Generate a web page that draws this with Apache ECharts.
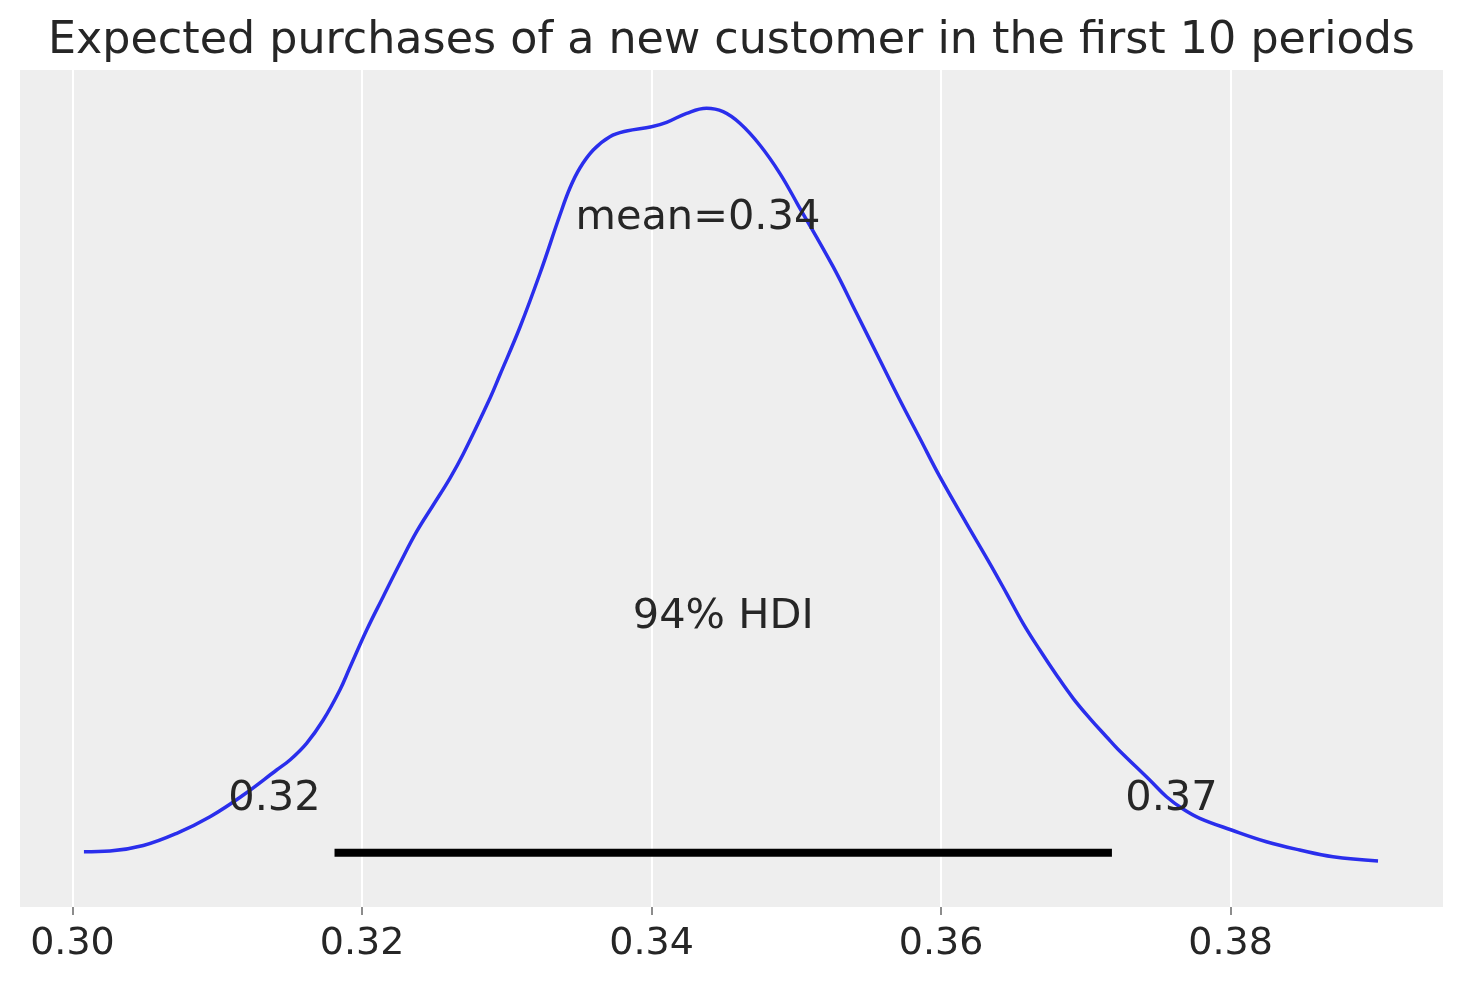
<!DOCTYPE html>
<html>
<head>
<meta charset="utf-8">
<script src="https://cdn.jsdelivr.net/npm/echarts@6/dist/echarts.min.js"></script>
<style>
html,body{margin:0;padding:0;background:#fff;}
#chart{width:1463px;height:983px;}
</style>
</head>
<body>
<div id="chart"></div>
<script>
const titleText = 'Expected purchases of a new customer in the first 10 periods';
const xTicks = [0.30, 0.32, 0.34, 0.36, 0.38];
const kdeX = [0.30079,0.30259,0.30489,0.30720,0.30950,0.31180,0.31410,0.31502,0.31617,0.31732,0.31847,0.31916,0.32032,0.32146,0.32262,0.32377,0.32492,0.32607,0.32699,0.32883,0.32952,0.33090,0.33229,0.33367,0.33436,0.33505,0.33597,0.33712,0.33827,0.34000,0.34104,0.34242,0.34380,0.34494,0.34610,0.34748,0.34886,0.35012,0.35254,0.35416,0.35577,0.35715,0.35853,0.35991,0.36175,0.36336,0.36452,0.36566,0.36682,0.36797,0.36912,0.37027,0.37142,0.37220,0.37441,0.37557,0.37671,0.37787,0.38006,0.38247,0.38477,0.38707,0.39018];
const kdeY = [0.368,0.393,0.589,1.025,1.618,2.393,3.286,3.643,4.239,5.071,6.143,6.946,8.286,9.475,10.668,11.796,12.750,13.704,14.571,16.554,17.393,19.089,21.018,23.107,24.071,24.786,25.429,25.904,26.107,26.261,26.418,26.739,26.918,26.796,26.382,25.607,24.596,23.464,21.261,19.596,17.929,16.5,15.132,13.761,12.096,10.668,9.596,8.525,7.571,6.679,5.846,5.132,4.475,4.036,2.929,2.332,1.893,1.561,1.143,0.725,0.429,0.189,0.04];
const hdiInterval = [0.3181, 0.3718];
const hdiLevel = 0.33;
const meanValue = 0.3432;
const meanLabel = 'mean=0.34';
const hdiLabel = '94% HDI';
const hdiLowLabel = '0.32';
const hdiHighLabel = '0.37';
const annotX = [meanValue, (hdiInterval[0] + hdiInterval[1]) / 2, 0.31395, 0.37591];
const annotY = [23.0, 8.75, 2.25, 2.25];
const annotText = [meanLabel, hdiLabel, hdiLowLabel, hdiHighLabel];

const FONT = 'DejaVu Sans';
const TXT = '#262626';
const chart = echarts.init(document.getElementById('chart'), null, {renderer: 'canvas'});
const option = {
  animation: false,
  backgroundColor: '#ffffff',
  title: {
    text: titleText,
    left: 'center',
    top: 14,
    textStyle: {fontFamily: FONT, fontSize: 44.4, fontWeight: 'normal', color: TXT}
  },
  grid: {left: 20, right: 20, top: 70, bottom: 76, backgroundColor: '#eeeeee', show: true, borderWidth: 0},
  xAxis: {
    type: 'value',
    min: 0.296374,
    max: 0.394669,
    axisLine: {show: false, onZero: false},
    axisTick: {show: true, length: 8, customValues: xTicks, lineStyle: {color: '#8c8c8c', width: 2}},
    axisLabel: {customValues: xTicks, margin: 18, fontFamily: FONT, fontSize: 38, color: TXT,
      formatter: v => v.toFixed(2)},
    splitLine: {show: true, lineStyle: {color: '#ffffff', width: 2}}
  },
  yAxis: {
    type: 'value',
    min: -1.607,
    max: 28.286,
    axisLine: {show: false},
    axisTick: {show: false},
    axisLabel: {show: false},
    splitLine: {show: false}
  },
  series: [
    {
      type: 'line',
      data: kdeX.map((x, i) => [x, kdeY[i]]),
      showSymbol: false,
      smooth: 0.4,
      lineStyle: {color: '#2a2eec', width: 3.5},
      z: 3
    },
    {
      type: 'line',
      data: hdiInterval.map(x => [x, hdiLevel]),
      showSymbol: false,
      lineStyle: {color: '#000000', width: 8, cap: 'butt'},
      z: 4
    },
    {
      type: 'scatter',
      data: annotX.map((x, i) => ({value: [x, annotY[i]], label: {formatter: annotText[i]}})),
      symbolSize: 0,
      itemStyle: {opacity: 1},
      label: {show: true, position: 'inside', fontFamily: FONT, fontSize: 41.5, color: TXT, opacity: 1},
      z: 5
    }
  ]
};
chart.setOption(option);
</script>
</body>
</html>
